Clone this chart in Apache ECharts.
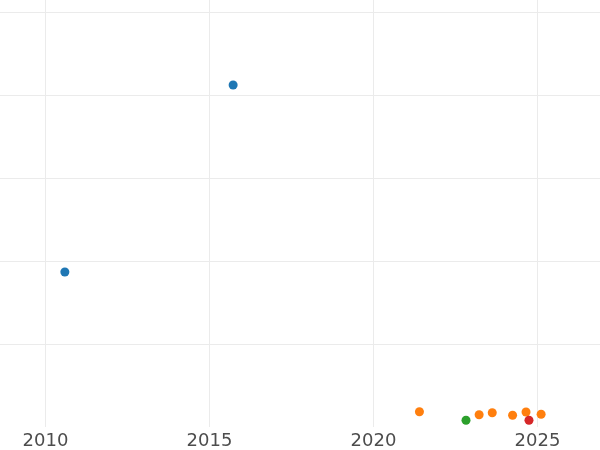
<!DOCTYPE html>
<html>
<head>
<meta charset="utf-8">
<script src="https://cdn.jsdelivr.net/npm/echarts@6/dist/echarts.min.js"></script>
<style>html,body{margin:0;padding:0;background:#fff}#c{width:600px;height:450px}</style>
</head>
<body>
<div id="c"></div>
<script>
// Data (year, value)
const blueX = [2010.59, 2015.72];
const blueY = [1.867, 4.12];
const orangeX = [2021.40, 2023.22, 2023.62, 2024.24, 2024.65, 2025.11];
const orangeY = [0.184, 0.148, 0.172, 0.141, 0.181, 0.153];
const greenX = [2022.82];
const greenY = [0.081];
const redX = [2024.74];
const redY = [0.081];
const xTickLabels = ['2010', '2015', '2020', '2025'];

const zip = (xs, ys) => xs.map((x, i) => [x, ys[i]]);
const chart = echarts.init(document.getElementById('c'), null, {renderer: 'canvas'});
const grid = '#ebebeb';
chart.setOption({
  animation: false,
  backgroundColor: '#ffffff',
  grid: {left: 0, right: 0, top: 0, bottom: 23, containLabel: false},
  xAxis: {
    type: 'value', min: 2008.613, max: 2026.905, splitNumber: 4,
    axisLine: {show: false}, axisTick: {show: false},
    axisLabel: {
      margin: 5, fontSize: 18, color: '#4d4d4d', fontFamily: 'DejaVu Sans',
      formatter: v => xTickLabels.includes(String(v)) ? String(v) : '',
      showMinLabel: false, showMaxLabel: false
    },
    splitLine: {show: true, showMinLine: false, showMaxLine: false, lineStyle: {color: grid, width: 1}}
  },
  yAxis: {
    type: 'value', min: 0, max: 5.1446, interval: 1,
    axisLine: {show: false}, axisTick: {show: false}, axisLabel: {show: false},
    splitLine: {show: true, showMinLine: false, showMaxLine: false, lineStyle: {color: grid, width: 1}}
  },
  series: [
    {type: 'scatter', data: zip(blueX, blueY), symbolSize: 9, itemStyle: {color: '#1f77b4', opacity: 1}},
    {type: 'scatter', data: zip(orangeX, orangeY), symbolSize: 9, itemStyle: {color: '#ff7f0e', opacity: 1}},
    {type: 'scatter', data: zip(greenX, greenY), symbolSize: 9, itemStyle: {color: '#2ca02c', opacity: 1}},
    {type: 'scatter', data: zip(redX, redY), symbolSize: 9, itemStyle: {color: '#d62728', opacity: 1}}
  ]
});
</script>
</body>
</html>
